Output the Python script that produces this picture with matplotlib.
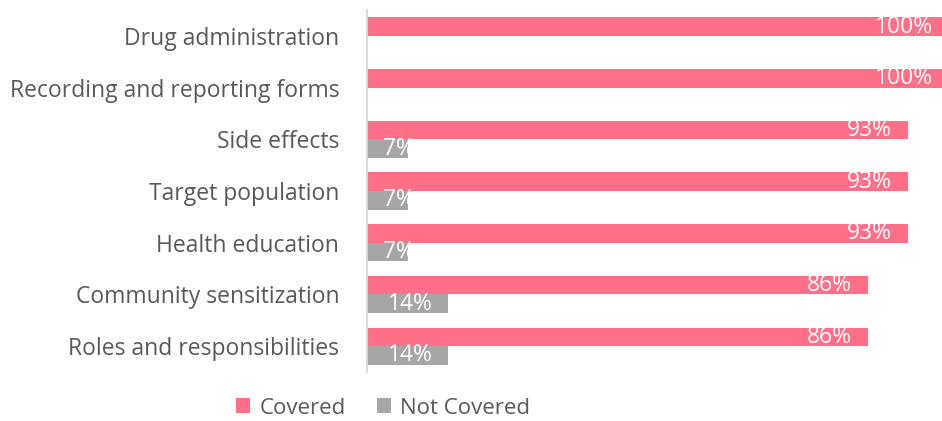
import matplotlib
matplotlib.use("Agg")
import matplotlib.pyplot as plt
import numpy as np

plt.rcParams['font.family'] = ['Open Sans', 'DejaVu Sans']

categories = ["Drug administration", "Recording and reporting forms", "Side effects",
              "Target population", "Health education", "Community sensitization",
              "Roles and responsibilities"]
covered = [100, 100, 93, 93, 93, 86, 86]
not_covered = [0, 0, 7, 7, 7, 14, 14]

pink = "#FF7088"
grey = "#A8A5A6"
txt = "#595959"
fs = 16.5

fig = plt.figure(figsize=(9.42, 4.21), dpi=100)
ax = fig.add_axes([367 / 942, 49 / 421, 582 / 942, 362 / 421])

y = np.arange(len(categories))
h = 0.36
b1 = ax.barh(y - h / 2, covered, height=h, color=pink, label="Covered")
b2 = ax.barh(y + h / 2, not_covered, height=h, color=grey, label="Not Covered")

for bars, vals in ((b1, covered), (b2, not_covered)):
    for bar, v in zip(bars, vals):
        if v == 0:
            continue
        yc = bar.get_y() + bar.get_height() / 2
        if v < 10:
            # too short for inside end, Excel pushes it to the start
            ax.annotate(f"{v}%", (0, yc), xytext=(11.5, 0), textcoords="offset points",
                        ha="left", va="center", color="white", fontsize=fs)
        else:
            ax.annotate(f"{v}%", (v, yc), xytext=(-11.5, 0), textcoords="offset points",
                        ha="right", va="center", color="white", fontsize=fs)

ax.set_xlim(0, 100)
ax.set_ylim(len(categories) - 0.5, -0.5)
ax.set_yticks(y)
ax.set_yticklabels(categories, fontsize=fs, color=txt)
ax.tick_params(axis="y", length=0, pad=20)
ax.set_xticks([])
for s in ("top", "right", "bottom"):
    ax.spines[s].set_visible(False)
ax.spines["left"].set_color("#D9D9D9")
ax.spines["left"].set_linewidth(1.3)

fig.legend(loc="center", bbox_to_anchor=(383 / 942, 1 - 408 / 421), ncol=2,
           frameon=False, fontsize=16, labelcolor=txt, handlelength=0.65,
           handleheight=0.65, handletextpad=0.4, columnspacing=1.4,
           borderpad=0.1)

fig.savefig("out.png", dpi=100)
